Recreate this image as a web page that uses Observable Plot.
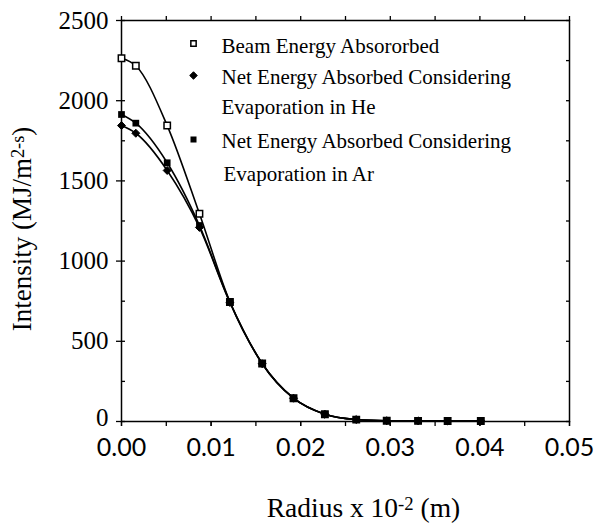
<!DOCTYPE html>
<html>
<head>
<meta charset="utf-8">
<script src="https://cdn.jsdelivr.net/npm/d3@7"></script>
<script src="https://cdn.jsdelivr.net/npm/@observablehq/plot@0.6"></script>
<style>
  html, body { margin: 0; padding: 0; background: #fff; }
  #chart { width: 597px; height: 528px; }
</style>
</head>
<body>
<div id="chart"></div>
<script>
// ---- data ----
const radius       = [0, 0.0016, 0.0051, 0.0087, 0.0121, 0.0157, 0.0192, 0.0227, 0.0262, 0.0296, 0.0331, 0.0364, 0.0401];
const beamAbsorbed = [2265, 2218, 1845, 1295, 745, 362, 145, 45, 12, 5, 4, 3, 3];
const netHe        = [1845, 1797, 1565, 1210, 742, 360, 145, 45, 12, 5, 4, 3, 3];
const netAr        = [1914, 1860, 1613, 1222, 745, 362, 145, 45, 12, 5, 4, 3, 3];
const seriesKeys   = ["beam", "he", "ar"];
const legendLines  = ["Beam Energy Absororbed", "Net Energy Absorbed Considering", "Evaporation in He", "Net Energy Absorbed Considering", "Evaporation in Ar"];
const xTickValues  = [0, 0.01, 0.02, 0.03, 0.04, 0.05];
const xTickLabels  = ["0.00", "0.01", "0.02", "0.03", "0.04", "0.05"];
const xMinorTicks  = [0, 0.005, 0.01, 0.015, 0.02, 0.025, 0.03, 0.035, 0.04, 0.045, 0.05];
const yTickValues  = [0, 500, 1000, 1500, 2000, 2500];
const yMinorTicks  = [0, 250, 500, 750, 1000, 1250, 1500, 1750, 2000, 2250, 2500];
const xTitle = ["Radius x 10", "-2", " (m)"];
const yTitle = ["Intensity (MJ/m", "2-s", ")"];

// ---- table built from the arrays ----
const values = {beam: beamAbsorbed, he: netHe, ar: netAr};
const rows = seriesKeys.flatMap(k => radius.map((r, i) => ({r, v: values[k][i], series: k})));
const byKey = k => rows.filter(d => d.series === k);

const serif = "Liberation Serif, Times New Roman, serif";
const tickFont = "Lato, Liberation Sans, sans-serif";
const legendDx = 100, markDx = 72;
const legendDy = [26, 57, 87, 121, 154];
const markDy = [23, 55, 119];

const plot = Plot.plot({
  width: 597,
  height: 528,
  marginLeft: 121,
  marginRight: 28,
  marginTop: 20,
  marginBottom: 107,
  style: {background: "#fff", color: "#000"},
  x: {domain: [0, 0.05]},
  y: {domain: [0, 2500]},
  marks: [
    Plot.frame({stroke: "#000", strokeWidth: 1.5}),
    // left axis: labelled major ticks (outward) + inward ticks every 250
    Plot.axisY({anchor: "left", ticks: yTickValues, tickSize: 5, tickPadding: 8,
      tickFormat: d => d === 0 ? "" : String(d), fontSize: 25, fontFamily: serif, label: null, strokeWidth: 1.3}),
    // the "0" label sits a little higher, clear of the x labels
    Plot.axisY({anchor: "left", ticks: yTickValues.slice(0, 1), tickSize: 0, tickPadding: 13, dy: -4,
      tickFormat: d => String(d), fontSize: 25, fontFamily: serif, label: null}),
    Plot.axisY({anchor: "left", ticks: yMinorTicks, tickSize: -4, tickFormat: () => "", label: null, strokeWidth: 1.3}),
    Plot.axisY({anchor: "right", ticks: yMinorTicks, tickSize: -4, tickFormat: () => "", label: null, strokeWidth: 1.3}),
    // bottom axis
    Plot.axisX({anchor: "bottom", ticks: xTickValues, tickSize: 5, tickPadding: 12,
      tickFormat: d => xTickLabels[xTickValues.indexOf(d)], fontSize: 25, fontFamily: tickFont, label: null, strokeWidth: 1.3}),
    Plot.axisX({anchor: "bottom", ticks: xMinorTicks, tickSize: 5, tickFormat: () => "", label: null, strokeWidth: 1.3}),
    Plot.axisX({anchor: "top", ticks: xMinorTicks, tickSize: 5, tickFormat: () => "", label: null, strokeWidth: 1.3}),
    // curves
    Plot.line(rows, {x: "r", y: "v", z: "series", curve: "monotone-x", stroke: "#000", strokeWidth: 1.6}),
    Plot.dot(byKey("beam"), {x: "r", y: "v", symbol: "square", r: 3.6, fill: "#fff", stroke: "#000", strokeWidth: 1.5}),
    Plot.dot(byKey("he"), {x: "r", y: "v", symbol: "diamond2", r: 3.6, fill: "#000", stroke: "#000", strokeWidth: 1}),
    Plot.dot(byKey("ar"), {x: "r", y: "v", symbol: "square", r: 3.8, fill: "#000"}),
    // legend
    Plot.dot([seriesKeys[0]], {frameAnchor: "top-left", dx: markDx, dy: markDy[0], symbol: "square", r: 3, fill: "#fff", stroke: "#000", strokeWidth: 1.5}),
    Plot.dot([seriesKeys[1]], {frameAnchor: "top-left", dx: markDx, dy: markDy[1], symbol: "diamond2", r: 3.4, fill: "#000", stroke: "#000", strokeWidth: 1}),
    Plot.dot([seriesKeys[2]], {frameAnchor: "top-left", dx: markDx, dy: markDy[2], symbol: "square", r: 3.4, fill: "#000"}),
    ...legendLines.map((t, i) => Plot.text([t], {text: d => d, frameAnchor: "top-left", dx: legendDx + (i === 4 ? 2 : 0), dy: legendDy[i],
      textAnchor: "start", lineAnchor: "middle", fontSize: 21, fontFamily: serif, fill: "#000"})),
    // axis titles
    Plot.text([xTitle.join("")], {text: d => d, frameAnchor: "bottom", dx: 18, dy: 87, textAnchor: "middle", lineAnchor: "middle",
      fontSize: 27.5, fontFamily: serif, fill: "#000", className: "xtitle"}),
    Plot.text([yTitle.join("")], {text: d => d, frameAnchor: "left", rotate: -90, dx: -99, dy: 8, textAnchor: "middle", lineAnchor: "middle",
      fontSize: 27, fontFamily: serif, fill: "#000", className: "ytitle"})
  ]
});

// superscripts inside the axis titles
function superscript(cls, parts) {
  const t = plot.querySelector("." + cls + " text");
  if (!t) return;
  t.textContent = "";
  const ns = "http://www.w3.org/2000/svg";
  const a = document.createElementNS(ns, "tspan"); a.textContent = parts[0];
  const b = document.createElementNS(ns, "tspan"); b.textContent = parts[1];
  b.setAttribute("dy", "-0.4em"); b.setAttribute("font-size", "0.68em");
  const c = document.createElementNS(ns, "tspan"); c.textContent = parts[2];
  c.setAttribute("dy", "0.27em");
  t.append(a, b, c);
}
superscript("xtitle", xTitle);
superscript("ytitle", yTitle);

document.getElementById("chart").append(plot);
</script>
</body>
</html>
